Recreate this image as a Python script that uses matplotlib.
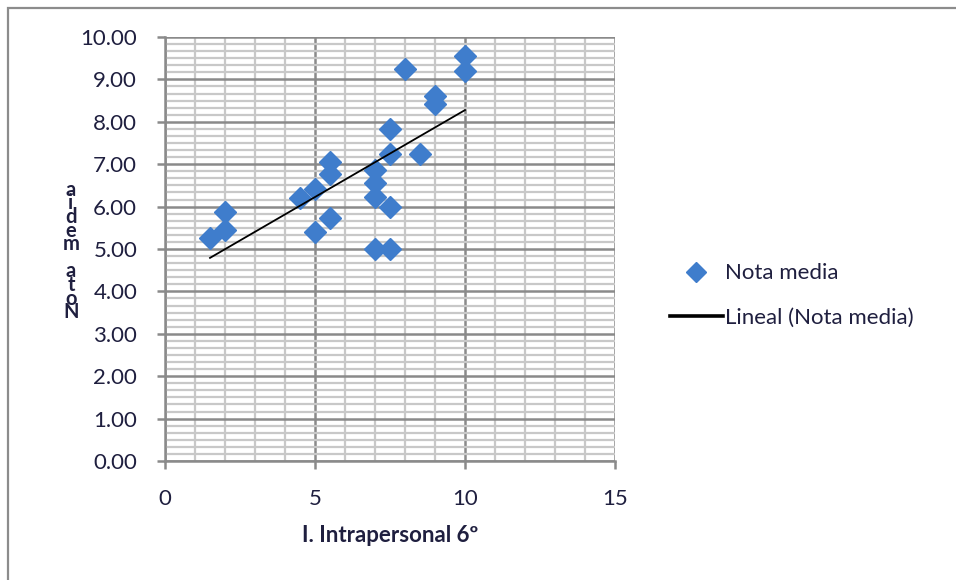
import numpy as np
import matplotlib
matplotlib.use('Agg')
import matplotlib.pyplot as plt
import matplotlib.patches as mpatches
from matplotlib.ticker import MultipleLocator, AutoMinorLocator, FormatStrFormatter

plt.rcParams['font.family'] = ['Lato', 'DejaVu Sans']

# Intrapersonal score vs. average mark
intrapersonal = [1.5, 2, 2, 4.5, 5, 5, 5.5, 5.5, 5.5, 7, 7, 7, 7,
                 7.5, 7.5, 7.5, 7.5, 8, 8.5, 9, 9, 10, 10]
nota_media = [5.27, 5.45, 5.88, 6.20, 6.42, 5.40, 5.72, 7.05, 6.76, 6.87, 6.55, 6.23, 5.00,
              5.00, 6.00, 7.25, 7.82, 9.25, 7.25, 8.60, 8.42, 9.55, 9.20]

x_ticks = [0, 5, 10, 15]
y_ticks = np.arange(0, 10.01, 1.0)

BLUE = '#3f7dcc'
GRID_MAJOR = '#8a8a8a'
GRID_MINOR = '#c8c8c8'
TEXT = '#1f1f3f'

fig = plt.figure(figsize=(9.56, 5.8), dpi=100)
ax = fig.add_axes([0.1726, 0.2052, 0.4707, 0.7310])

# outer chart frame
frame = mpatches.Rectangle((8 / 956, -0.1), 1.2, 1 - 8 / 580 + 0.1,
                           transform=fig.transFigure, fill=False,
                           edgecolor='#8c8c8c', linewidth=1.6, zorder=0)
fig.patches.append(frame)

ax.set_xlim(0, 15)
ax.set_ylim(0, 10)
ax.set_xticks(x_ticks)
ax.set_yticks(y_ticks)
ax.xaxis.set_minor_locator(MultipleLocator(1))
ax.yaxis.set_minor_locator(AutoMinorLocator(6))
ax.yaxis.set_major_formatter(FormatStrFormatter('%.2f'))

ax.grid(which='minor', color=GRID_MINOR, linewidth=1.6)
ax.grid(which='major', color=GRID_MAJOR, linewidth=1.8)
ax.set_axisbelow(True)

for side in ['top', 'right']:
    ax.spines[side].set_visible(False)
for side in ['left', 'bottom']:
    ax.spines[side].set_color(GRID_MAJOR)
    ax.spines[side].set_linewidth(1.8)

ax.tick_params(which='major', direction='out', length=6, width=1.8, color=GRID_MAJOR,
               labelsize=16, labelcolor=TEXT)
ax.tick_params(which='minor', length=0)
ax.tick_params(axis='x', pad=14)
ax.tick_params(axis='y', pad=14)

ax.plot(intrapersonal, nota_media, linestyle='none', marker='D', markersize=11,
        color=BLUE, label='Nota media', zorder=3)

# linear trend
slope, intercept = np.polyfit(intrapersonal, nota_media, 1)
xs = np.array([min(intrapersonal), max(intrapersonal)])
ax.plot(xs, slope * xs + intercept, color='black', linewidth=1.3,
        label='Lineal (Nota media)', zorder=4)

ax.set_xlabel('I. Intrapersonal 6º', fontsize=16, fontweight='bold',
              labelpad=12, color=TEXT)

# stacked vertical y label
fig.text(71 / 956, 1 - 251 / 580, '\n'.join(reversed('Nota media')),
         ha='center', va='center', fontsize=14.5, fontweight='bold',
         linespacing=0.6, color=TEXT)

leg = ax.legend(loc='center left', bbox_to_anchor=(1.077, 0.39), frameon=False,
                fontsize=16, handlelength=2.4, handletextpad=0.1, labelspacing=1.1,
                markerscale=0.9)
for t in leg.get_texts():
    t.set_color(TEXT)
leg.get_lines()[1].set_linewidth(2.6)

fig.savefig('out.png', dpi=100)
